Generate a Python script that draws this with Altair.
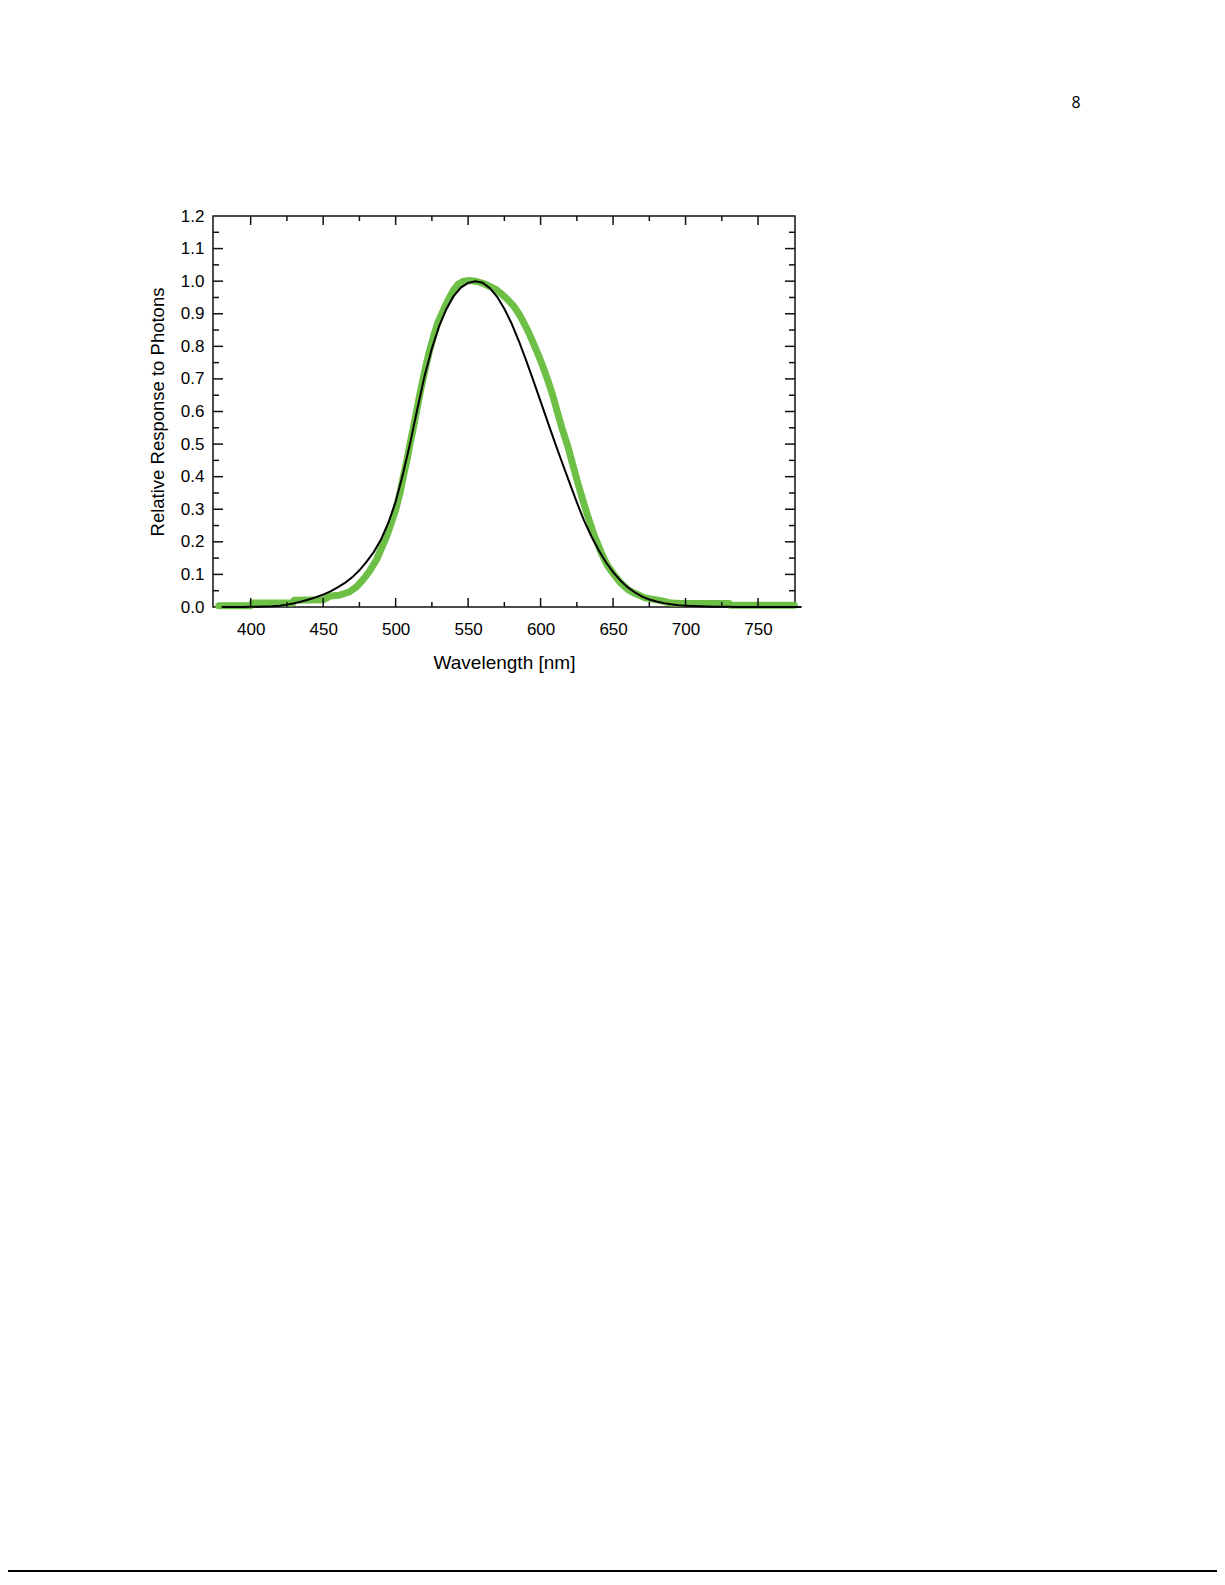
import altair as alt
import pandas as pd

# CIE photopic luminosity function V(lambda), black curve
ref_wl = list(range(380, 785, 5))
ref_v = [0.000039, 0.000064, 0.00012, 0.000217, 0.000396, 0.00064, 0.00121, 0.00218,
         0.004, 0.0073, 0.0116, 0.01684, 0.023, 0.0298, 0.038, 0.048, 0.06, 0.0739,
         0.09098, 0.1126, 0.13902, 0.1693, 0.20802, 0.2586, 0.323, 0.4073, 0.503,
         0.6082, 0.71, 0.7932, 0.862, 0.91485, 0.954, 0.9803, 0.99495, 1.0, 0.995,
         0.9786, 0.952, 0.9154, 0.87, 0.8163, 0.757, 0.6949, 0.631, 0.5668, 0.503,
         0.4412, 0.381, 0.321, 0.265, 0.217, 0.175, 0.1382, 0.107, 0.0816, 0.061,
         0.04458, 0.032, 0.0232, 0.017, 0.01192, 0.00821, 0.005723, 0.004102,
         0.002929, 0.002091, 0.001484, 0.001047, 0.00074, 0.00052, 0.000361,
         0.000249, 0.000172, 0.00012, 0.0000848, 0.00006, 0.0000424, 0.00003,
         0.0000212, 0.000015]

meas_wl = [378, 400, 401, 429, 430, 450, 455, 461, 468, 473, 477.5, 482, 486.8, 490,
           493.8, 497, 500, 503, 505.3, 508, 510, 512, 514.6, 517, 520.3, 523, 526.1,
           529, 533, 536, 540, 543, 547, 551, 556, 561, 565.5, 569, 572.4, 577, 581.7,
           586, 591, 594, 597.9, 601, 604.9, 608, 611.8, 615, 618.8, 622, 625.7, 629,
           632.6, 637, 641.9, 646, 651, 655, 660.4, 665, 672, 677, 681, 686, 690, 697,
           730, 731, 775]
meas_v = [0.004, 0.004, 0.012, 0.012, 0.021, 0.022, 0.034, 0.036, 0.046, 0.062, 0.084,
          0.110, 0.145, 0.178, 0.217, 0.258, 0.298, 0.350, 0.400, 0.455, 0.503, 0.545,
          0.605, 0.660, 0.728, 0.780, 0.830, 0.872, 0.912, 0.940, 0.973, 0.990, 1.000,
          1.002, 0.999, 0.992, 0.983, 0.975, 0.963, 0.945, 0.922, 0.893, 0.850, 0.820,
          0.779, 0.745, 0.697, 0.655, 0.595, 0.545, 0.493, 0.440, 0.380, 0.330, 0.278,
          0.220, 0.166, 0.128, 0.097, 0.075, 0.053, 0.042, 0.028, 0.024, 0.021, 0.016,
          0.012, 0.011, 0.011, 0.005, 0.005]

x_major = [400, 450, 500, 550, 600, 650, 700, 750]
x_minor = [425, 475, 525, 575, 625, 675, 725]
y_labels = [0.0, 0.1, 0.2, 0.3, 0.4, 0.5, 0.6, 0.7, 0.8, 0.9, 1.0, 1.1, 1.2]
y_major = [0.1, 0.2, 0.3, 0.4, 0.5, 0.6, 0.7, 0.8, 0.9, 1.0, 1.1]
y_minor = [0.05, 0.15, 0.25, 0.35, 0.45, 0.55, 0.65, 0.75, 0.85, 0.95, 1.05, 1.15]
page_label = ["8"]

W, H = 582, 391
FONT = "Liberation Sans"

ref_df = pd.DataFrame({"wl": ref_wl, "v": ref_v})
meas_df = pd.DataFrame({"wl": meas_wl, "v": meas_v})
xmaj_df = pd.DataFrame({"wl": x_major})
xmin_df = pd.DataFrame({"wl": x_minor})
ymaj_df = pd.DataFrame({"v": y_major})
ymin_df = pd.DataFrame({"v": y_minor})
page_df = pd.DataFrame({"t": page_label})

x_enc = alt.X("wl:Q", title="Wavelength [nm]",
              scale=alt.Scale(domain=[374, 775.5], nice=False, zero=False),
              axis=alt.Axis(values=x_major, ticks=False, domain=False, grid=False,
                            labelFontSize=17, labelPadding=14, labelFlush=False,
                            labelOverlap=False, labelColor="#000", labelFont=FONT,
                            titleFont=FONT, titleFontSize=19, titleFontWeight="normal",
                            titleColor="#000", titlePadding=16))
y_enc = alt.Y("v:Q", title="Relative Response to Photons",
              scale=alt.Scale(domain=[0, 1.2], nice=False),
              axis=alt.Axis(values=y_labels, format=".1f", ticks=False, domain=False,
                            grid=False, labelFontSize=17, labelPadding=9,
                            labelFlush=False, labelOverlap=False, labelColor="#000",
                            labelFont=FONT, titleFont=FONT, titleFontSize=18.5,
                            titleFontWeight="normal", titleColor="#000",
                            titlePadding=13))

green = alt.Chart(meas_df).mark_line(color="#6ebf46", strokeWidth=7,
                                     strokeCap="round", strokeJoin="round").encode(
    x=x_enc, y=y_enc)
black = alt.Chart(ref_df).mark_line(color="#000", strokeWidth=2).encode(x=x_enc, y=y_enc)

TC = "#111"
TW = 1.5
xb_maj = alt.Chart(xmaj_df).mark_rule(color=TC, strokeWidth=TW).encode(
    x=x_enc, y=alt.value(H), y2=alt.value(H - 9))
xb_min = alt.Chart(xmin_df).mark_rule(color=TC, strokeWidth=TW).encode(
    x=x_enc, y=alt.value(H), y2=alt.value(H - 5))
xt_maj = alt.Chart(xmaj_df).mark_rule(color=TC, strokeWidth=TW).encode(
    x=x_enc, y=alt.value(0), y2=alt.value(9))
xt_min = alt.Chart(xmin_df).mark_rule(color=TC, strokeWidth=TW).encode(
    x=x_enc, y=alt.value(0), y2=alt.value(5))
yl_maj = alt.Chart(ymaj_df).mark_rule(color=TC, strokeWidth=TW).encode(
    y=y_enc, x=alt.value(0), x2=alt.value(10))
yl_min = alt.Chart(ymin_df).mark_rule(color=TC, strokeWidth=TW).encode(
    y=y_enc, x=alt.value(0), x2=alt.value(6))
yr_maj = alt.Chart(ymaj_df).mark_rule(color=TC, strokeWidth=TW).encode(
    y=y_enc, x=alt.value(W), x2=alt.value(W - 10))
yr_min = alt.Chart(ymin_df).mark_rule(color=TC, strokeWidth=TW).encode(
    y=y_enc, x=alt.value(W), x2=alt.value(W - 6))

page_num = alt.Chart(page_df).mark_text(font="Open Sans", fontSize=16, color="#000",
                                        align="center", baseline="middle").encode(
    text="t:N", x=alt.value(863), y=alt.value(-113))

PAD_LEFT = 205
PAD_TOP = 208
TOTAL_W = 1209
TOTAL_H = 1565
page_line = alt.Chart(page_df).mark_rule(color="#000", strokeWidth=2).encode(
    x=alt.value(-PAD_LEFT), x2=alt.value(TOTAL_W - PAD_LEFT),
    y=alt.value(TOTAL_H - PAD_TOP - 2))

chart = alt.layer(
    green, black, xb_maj, xb_min, xt_maj, xt_min, yl_maj, yl_min, yr_maj, yr_min,
    page_num, page_line
).properties(
    width=W, height=H, background="white",
    padding={"left": PAD_LEFT, "top": PAD_TOP, "right": TOTAL_W - PAD_LEFT - W,
             "bottom": TOTAL_H - PAD_TOP - H},
    autosize=alt.AutoSizeParams(type="none"),
).configure_view(
    stroke="#111", strokeWidth=1.5
)

chart.save("out.html", embed_options={"renderer": "svg", "actions": False})
